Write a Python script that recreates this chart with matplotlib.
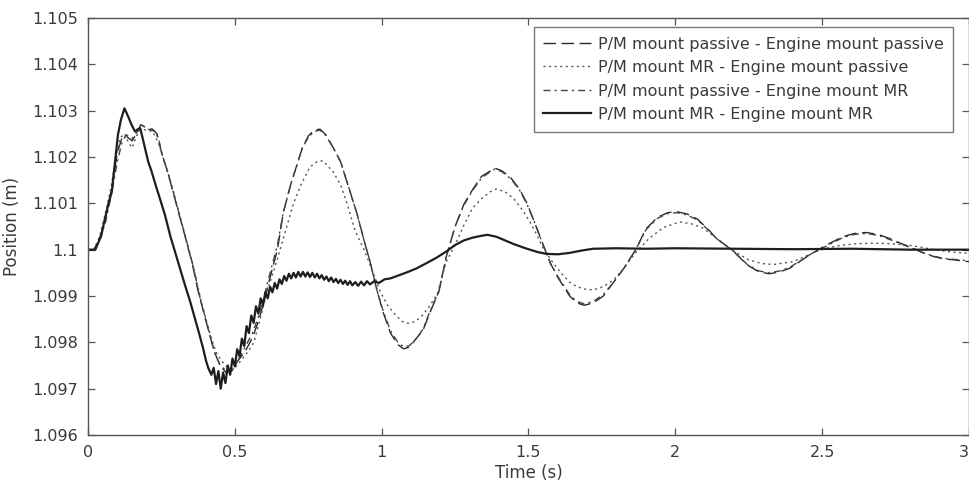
import matplotlib
matplotlib.use("Agg")
import matplotlib.pyplot as plt

# P/M mount passive - Engine mount passive
t_pp = [0.000, 0.020, 0.040, 0.060, 0.080, 0.100, 0.115, 0.130, 0.150, 0.165, 0.180, 0.200,
        0.220, 0.235, 0.250, 0.270, 0.300, 0.330, 0.355, 0.375, 0.400, 0.430, 0.450, 0.470,
        0.490, 0.510, 0.535, 0.560, 0.580, 0.600, 0.620, 0.645, 0.665, 0.690, 0.710, 0.730,
        0.750, 0.770, 0.790, 0.810, 0.835, 0.860, 0.890, 0.915, 0.940, 0.960, 0.985, 1.005,
        1.030, 1.055, 1.075, 1.095, 1.120, 1.140, 1.165, 1.195, 1.220, 1.250, 1.280, 1.310,
        1.340, 1.370, 1.385, 1.410, 1.440, 1.470, 1.495, 1.520, 1.550, 1.575, 1.600, 1.640,
        1.665, 1.690, 1.720, 1.755, 1.790, 1.825, 1.865, 1.900, 1.940, 1.975, 2.005, 2.040,
        2.075, 2.110, 2.140, 2.170, 2.200, 2.245, 2.285, 2.320, 2.355, 2.390, 2.425, 2.460,
        2.515, 2.570, 2.610, 2.650, 2.690, 2.730, 2.770, 2.810, 2.845, 2.880, 2.915, 2.950,
        3.000]
y_pp = [1.1, 1.1, 1.10025, 1.1007, 1.1013, 1.1021, 1.1024, 1.10245, 1.10235, 1.1025, 1.1027, 1.10262,
        1.1026, 1.1025, 1.1021, 1.1017, 1.1010, 1.1003, 1.0997, 1.0991, 1.0985, 1.0978, 1.0975, 1.09735,
        1.0974, 1.0976, 1.0978, 1.0981, 1.09845, 1.0989, 1.0994, 1.1000, 1.1008, 1.1014, 1.1018, 1.1022,
        1.10245, 1.10258, 1.1026, 1.10248, 1.1022, 1.1019, 1.1013, 1.1008, 1.1002, 1.09975, 1.0991, 1.09865,
        1.0982, 1.09795, 1.09786, 1.0979, 1.0981, 1.09825, 1.09865, 1.0991, 1.09985, 1.1005, 1.10098, 1.1013,
        1.10158, 1.1017, 1.10176, 1.1017, 1.10155, 1.1013, 1.1010, 1.1006, 1.1001, 1.0997, 1.0994, 1.0990,
        1.09885, 1.0988, 1.09885, 1.0990, 1.0993, 1.0996, 1.1000, 1.10045, 1.1007, 1.1008, 1.10082, 1.10077,
        1.10066, 1.10045, 1.10024, 1.1001, 1.09995, 1.09967, 1.09952, 1.09948, 1.09952, 1.0996, 1.09975, 1.0999,
        1.1001, 1.10028, 1.10035, 1.10037, 1.10033, 1.10024, 1.10013, 1.10003, 1.09993, 1.09985, 1.0998, 1.09978,
        1.09974]

# P/M mount MR - Engine mount passive
t_mp = [0.000, 0.020, 0.040, 0.060, 0.080, 0.095, 0.110, 0.125, 0.140, 0.150, 0.165, 0.180,
        0.200, 0.220, 0.240, 0.260, 0.285, 0.310, 0.335, 0.360, 0.385, 0.410, 0.435, 0.455,
        0.475, 0.500, 0.520, 0.545, 0.565, 0.590, 0.610, 0.630, 0.645, 0.675, 0.700, 0.725,
        0.755, 0.780, 0.800, 0.835, 0.860, 0.880, 0.910, 0.940, 0.965, 0.995, 1.020, 1.050,
        1.070, 1.090, 1.115, 1.140, 1.165, 1.190, 1.220, 1.250, 1.280, 1.310, 1.340, 1.370,
        1.390, 1.420, 1.450, 1.480, 1.505, 1.530, 1.550, 1.580, 1.610, 1.640, 1.665, 1.690,
        1.720, 1.755, 1.790, 1.825, 1.860, 1.910, 1.960, 2.015, 2.060, 2.095, 2.140, 2.190,
        2.250, 2.295, 2.335, 2.400, 2.440, 2.480, 2.520, 2.560, 2.620, 2.675, 2.730, 2.790,
        2.840, 2.880, 2.940, 3.000]
y_mp = [1.1, 1.1, 1.1003, 1.1008, 1.1014, 1.1020, 1.10242, 1.1025, 1.10228, 1.1022, 1.10245, 1.1026,
        1.10258, 1.10255, 1.1023, 1.1019, 1.1014, 1.1008, 1.1002, 1.0996, 1.0989, 1.0983, 1.0978, 1.0976,
        1.09745, 1.09745, 1.0976, 1.0978, 1.0980, 1.0986, 1.0991, 1.0995, 1.0998, 1.10046, 1.1010, 1.1014,
        1.10178, 1.1019, 1.10192, 1.10168, 1.1014, 1.10104, 1.1004, 1.1000, 1.0996, 1.0991, 1.0988, 1.09857,
        1.09845, 1.09841, 1.09845, 1.09859, 1.0988, 1.09905, 1.09974, 1.1001, 1.10053, 1.1009, 1.1011, 1.10125,
        1.10131, 1.10125, 1.1011, 1.10085, 1.1006, 1.1003, 1.10003, 1.09975, 1.0995, 1.0993, 1.0992, 1.09915,
        1.09913, 1.0992, 1.09935, 1.0996, 1.0999, 1.10024, 1.10048, 1.1006, 1.10055, 1.10046, 1.10025, 1.1,
        1.09978, 1.0997, 1.09968, 1.09974, 1.09985, 1.09996, 1.10004, 1.10009, 1.10013, 1.10014, 1.10013, 1.1001,
        1.10005, 1.1, 1.09995, 1.09992]

# P/M mount passive - Engine mount MR
t_pm = [0.000, 0.020, 0.040, 0.060, 0.080, 0.100, 0.115, 0.130, 0.150, 0.165, 0.185, 0.205,
        0.225, 0.240, 0.255, 0.275, 0.305, 0.335, 0.360, 0.380, 0.405, 0.430, 0.450, 0.470,
        0.490, 0.510, 0.535, 0.560, 0.580, 0.600, 0.620, 0.645, 0.665, 0.690, 0.710, 0.730,
        0.750, 0.770, 0.790, 0.810, 0.835, 0.860, 0.890, 0.915, 0.940, 0.960, 0.985, 1.005,
        1.030, 1.055, 1.075, 1.095, 1.120, 1.140, 1.165, 1.195, 1.220, 1.250, 1.280, 1.310,
        1.340, 1.370, 1.385, 1.410, 1.440, 1.470, 1.495, 1.520, 1.550, 1.575, 1.600, 1.640,
        1.665, 1.690, 1.720, 1.755, 1.790, 1.825, 1.865, 1.900, 1.940, 1.975, 2.005, 2.040,
        2.075, 2.110, 2.140, 2.170, 2.200, 2.245, 2.285, 2.320, 2.355, 2.390, 2.425, 2.460,
        2.515, 2.570, 2.610, 2.650, 2.690, 2.730, 2.770, 2.810, 2.845, 2.880, 2.915, 2.950,
        3.000]
y_pm = [1.1, 1.1, 1.1002, 1.1006, 1.1012, 1.1019, 1.1023, 1.10248, 1.1024, 1.10252, 1.10268, 1.1026,
        1.10256, 1.1024, 1.1020, 1.1016, 1.1009, 1.1002, 1.0996, 1.0990, 1.0984, 1.0978, 1.0975, 1.0974,
        1.09738, 1.0976, 1.0979, 1.0982, 1.09855, 1.0990, 1.0995, 1.1001, 1.1008, 1.1014, 1.1018, 1.1022,
        1.10242, 1.10255, 1.10258, 1.10246, 1.1022, 1.1019, 1.1013, 1.1008, 1.1002, 1.09975, 1.0991, 1.09868,
        1.09825, 1.098, 1.0979, 1.09793, 1.0981, 1.09828, 1.09868, 1.0991, 1.09985, 1.1005, 1.10096, 1.10128,
        1.10155, 1.10168, 1.10174, 1.10168, 1.10153, 1.10128, 1.10098, 1.1006, 1.1001, 1.0997, 1.09942, 1.09903,
        1.09888, 1.09883, 1.09888, 1.09903, 1.0993, 1.0996, 1.1000, 1.10043, 1.10068, 1.10078, 1.1008, 1.10075,
        1.10064, 1.10044, 1.10024, 1.1001, 1.09996, 1.09968, 1.09954, 1.0995, 1.09954, 1.09962, 1.09976, 1.0999,
        1.10008, 1.10026, 1.10033, 1.10035, 1.10031, 1.10022, 1.10012, 1.10002, 1.09993, 1.09986, 1.09981, 1.09979,
        1.09976]

# P/M mount MR - Engine mount MR
t_mm = [0.000, 0.025, 0.045, 0.058, 0.070, 0.081, 0.092, 0.102, 0.112, 0.124, 0.135, 0.148,
        0.160, 0.170, 0.178, 0.190, 0.205, 0.217, 0.230, 0.245, 0.262, 0.280, 0.296, 0.313,
        0.330, 0.347, 0.364, 0.378, 0.392, 0.402, 0.410, 0.420, 0.428, 0.436, 0.444, 0.452,
        0.460, 0.468, 0.476, 0.484, 0.492, 0.500, 0.508, 0.516, 0.524, 0.532, 0.540, 0.548,
        0.556, 0.564, 0.572, 0.580, 0.588, 0.596, 0.604, 0.612, 0.620, 0.628, 0.636, 0.644,
        0.652, 0.660, 0.668, 0.676, 0.684, 0.692, 0.700, 0.708, 0.716, 0.724, 0.732, 0.740,
        0.748, 0.756, 0.764, 0.772, 0.780, 0.788, 0.796, 0.804, 0.812, 0.820, 0.828, 0.836,
        0.844, 0.852, 0.860, 0.868, 0.876, 0.884, 0.892, 0.900, 0.910, 0.920, 0.930, 0.940,
        0.950, 0.960, 0.975, 0.990, 1.010, 1.030, 1.060, 1.090, 1.120, 1.150, 1.185, 1.220,
        1.250, 1.280, 1.310, 1.340, 1.360, 1.390, 1.420, 1.450, 1.490, 1.530, 1.560, 1.600,
        1.640, 1.680, 1.720, 1.800, 1.900, 2.000, 2.200, 2.400, 2.600, 2.800, 3.000]
y_mm = [1.1, 1.1, 1.1003, 1.10068, 1.1010, 1.10125, 1.1019, 1.10248, 1.1028, 1.10305, 1.1029, 1.1027,
        1.10255, 1.1026, 1.10262, 1.1023, 1.1019, 1.10168, 1.1014, 1.1011, 1.10075, 1.1003, 1.09996, 1.0996,
        1.09924, 1.0989, 1.09852, 1.0982, 1.09787, 1.0976, 1.09744, 1.0973, 1.09745, 1.0971, 1.09738, 1.0970,
        1.09735, 1.09712, 1.0975, 1.0973, 1.09765, 1.09748, 1.09785, 1.0977, 1.09808, 1.09792, 1.09835, 1.0982,
        1.09858, 1.09842, 1.09878, 1.09862, 1.09895, 1.0988, 1.09908, 1.09895, 1.0992, 1.09908, 1.09928, 1.09916,
        1.09936, 1.09926, 1.09943, 1.09933, 1.09948, 1.09938, 1.0995, 1.0994, 1.09952, 1.09942, 1.09952, 1.09942,
        1.09951, 1.09941, 1.0995, 1.0994, 1.09948, 1.09938, 1.09945, 1.09935, 1.09942, 1.09932, 1.0994, 1.0993,
        1.09937, 1.09928, 1.09935, 1.09926, 1.09933, 1.09924, 1.09932, 1.09923, 1.0993, 1.09922, 1.09931, 1.09923,
        1.09932, 1.09925, 1.09932, 1.09928, 1.09936, 1.09938, 1.09945, 1.09952, 1.0996, 1.0997, 1.09982, 1.09996,
        1.1001, 1.1002, 1.10026, 1.1003, 1.10032, 1.10028, 1.1002, 1.10012, 1.10003, 1.09995, 1.09991, 1.0999,
        1.09993, 1.09998, 1.10002, 1.10003, 1.10002, 1.10003, 1.10002, 1.10001, 1.10002, 1.1, 1.1]

x_ticks = [0, 0.5, 1, 1.5, 2, 2.5, 3]
x_labels = ['0', '0.5', '1', '1.5', '2', '2.5', '3']
y_ticks = [1.096, 1.097, 1.098, 1.099, 1.1, 1.101, 1.102, 1.103, 1.104, 1.105]
y_labels = ['1.096', '1.097', '1.098', '1.099', '1.1', '1.101', '1.102', '1.103', '1.104', '1.105']

plt.rcParams['font.family'] = ['DejaVu Sans']
txt = '#3a3a3a'

fig = plt.figure(figsize=(9.7, 4.86), dpi=100)
ax = fig.add_axes([88 / 970, 1 - 435 / 486, 881 / 970, 417 / 486])

ax.plot(t_pp, y_pp, linestyle=(0, (9, 4)), color='#2a2a2a', lw=1.0,
        label='P/M mount passive - Engine mount passive')
ax.plot(t_mp, y_mp, linestyle=(0, (1.5, 2.5)), color='#555555', lw=1.0,
        label='P/M mount MR - Engine mount passive')
ax.plot(t_pm, y_pm, linestyle=(0, (5, 3, 1.5, 3)), color='#444444', lw=1.0,
        label='P/M mount passive - Engine mount MR')
ax.plot(t_mm, y_mm, '-', color='#1e1e1e', lw=1.6,
        label='P/M mount MR - Engine mount MR')

ax.set_xlim(0, 3)
ax.set_ylim(1.096, 1.105)
ax.set_xticks(x_ticks)
ax.set_xticklabels(x_labels)
ax.set_yticks(y_ticks)
ax.set_yticklabels(y_labels)
ax.tick_params(direction='in', length=5, width=0.9, colors='#555555', labelcolor=txt,
               labelsize=11.5, top=True, right=True, pad=7)
# last x label sits against the right edge of the figure
ax.get_xticklabels()[-1].set_horizontalalignment('right')
for sp in ax.spines.values():
    sp.set_color('#555555')
    sp.set_linewidth(1.0)

ax.set_xlabel('Time (s)', fontsize=12, color=txt, labelpad=3)
ax.set_ylabel('Position (m)', fontsize=12, color=txt, labelpad=8)

leg = ax.legend(loc='upper right', bbox_to_anchor=((953 - 88) / 881, 1 - 9 / 417),
                fontsize=11.5, frameon=True, fancybox=False, handlelength=3.0,
                handletextpad=0.4, labelspacing=0.53, borderpad=0.6, borderaxespad=0)
leg.get_frame().set_edgecolor('#555555')
leg.get_frame().set_linewidth(1.0)
for t in leg.get_texts():
    t.set_color(txt)

fig.savefig('out.png', dpi=100)
